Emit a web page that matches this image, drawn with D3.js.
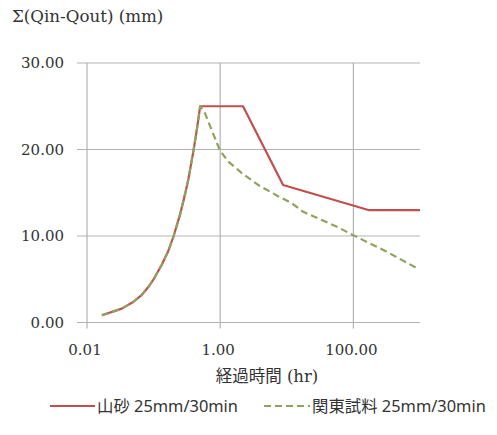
<!DOCTYPE html>
<html><head><meta charset="utf-8">
<script src="https://cdn.jsdelivr.net/npm/d3@7"></script>
<style>
html,body{margin:0;padding:0;background:#fff;}
svg{display:block;}
</style></head>
<body>
<svg id="chart" width="497" height="435"></svg>
<script>
// ---- data ----
const seriesNames = ["山砂 25mm/30min", "関東試料 25mm/30min"];
const riseTime  = [0.0167, 0.0333, 0.05, 0.0667, 0.0833, 0.1, 0.1333, 0.1667, 0.2, 0.25, 0.3, 0.3333, 0.4, 0.45, 0.5];
const riseValue = [0.83, 1.6, 2.4, 3.2, 4.1, 5.0, 6.7, 8.3, 10.0, 12.5, 15.0, 16.6, 20.0, 22.5, 25.0];
const sandTime  = [2.2, 8.8, 168, 1000];
const sandValue = [25.0, 15.9, 13.0, 13.0];
const kantoTime  = [0.59, 0.74, 0.99, 1.32, 2.09, 3.72, 7.4, 11.8, 17.6, 55.6, 99, 313, 940];
const kantoValue = [24.2, 22.3, 19.9, 18.6, 17.3, 15.9, 14.6, 13.8, 12.8, 11.1, 10.1, 8.2, 6.2];
const xTicks = [0.01, 1, 100];
const yTicks = [0, 10, 20, 30];
const yTitle = "Σ(Qin-Qout) (mm)";
const xTitle = "経過時間 (hr)";

// ---- layout ----
const svg = d3.select("#chart");
const x = d3.scaleLog().domain([0.01, 1000]).range([87, 420]);
const y = d3.scaleLinear().domain([0, 30]).range([322.5, 63]);
const serif = "'DejaVu Serif', 'Liberation Serif', 'Noto Sans CJK JP', serif";
const sans = "'Noto Sans', 'Noto Sans CJK JP', sans-serif";
const grid = "#b3b3b3";

// horizontal gridlines (with left tick stubs)
svg.append("g").selectAll("line").data(yTicks).join("line")
  .attr("x1", 77).attr("x2", x(1000))
  .attr("y1", d => y(d)).attr("y2", d => y(d))
  .attr("stroke", grid).attr("stroke-width", 1.2);
// vertical gridlines (with bottom tick stubs)
svg.append("g").selectAll("line").data(xTicks).join("line")
  .attr("x1", d => x(d)).attr("x2", d => x(d))
  .attr("y1", y(30)).attr("y2", y(0) + 6)
  .attr("stroke", grid).attr("stroke-width", 1.2);

// tick labels
svg.append("g").selectAll("text").data(yTicks).join("text")
  .attr("x", 64).attr("y", d => y(d)).attr("dy", "0.36em")
  .attr("text-anchor", "end").attr("font-family", serif).attr("font-size", 15)
  .attr("fill", "#333").text(d => d3.format(".2f")(d));
svg.append("g").selectAll("text").data(xTicks).join("text")
  .attr("x", d => x(d) - 2).attr("y", 355)
  .attr("text-anchor", "middle").attr("font-family", serif).attr("font-size", 15)
  .attr("fill", "#333").text(d => d3.format(".2f")(d));

// titles
svg.append("text").attr("x", 12).attr("y", 22)
  .attr("font-family", serif).attr("font-size", 16.7).attr("fill", "#333")
  .text(yTitle);
svg.append("text").attr("x", 267).attr("y", 382).attr("text-anchor", "middle")
  .attr("font-family", serif).attr("font-size", 16.5).attr("fill", "#333")
  .text(xTitle);

// lines
const line = d3.line().x(d => x(d[0])).y(d => y(d[1]));
const sandPts = riseTime.map((t, i) => [t, riseValue[i]])
  .concat(sandTime.map((t, i) => [t, sandValue[i]]));
const kantoPts = riseTime.map((t, i) => [t, riseValue[i]])
  .concat(kantoTime.map((t, i) => [t, kantoValue[i]]));
const red = "#c0504d", green = "#8ea35e";

svg.append("path").datum(sandPts).attr("d", line)
  .attr("fill", "none").attr("stroke", red).attr("stroke-width", 2.2)
  .attr("stroke-linejoin", "round");
svg.append("path").datum(kantoPts).attr("d", line)
  .attr("fill", "none").attr("stroke", green).attr("stroke-width", 2.2)
  .attr("stroke-linejoin", "round").attr("stroke-dasharray", "7,4");

// legend
const lg = svg.append("g");
const lgY = 406;
lg.append("line").attr("x1", 50).attr("x2", 95).attr("y1", lgY).attr("y2", lgY)
  .attr("stroke", red).attr("stroke-width", 2.2);
lg.append("text").attr("x", 97).attr("y", lgY).attr("dy", "0.36em")
  .attr("font-family", sans).attr("font-size", 16.4)
  .attr("fill", "#333").text(seriesNames[0]);
lg.append("line").attr("x1", 264).attr("x2", 310).attr("y1", lgY).attr("y2", lgY)
  .attr("stroke", green).attr("stroke-width", 2.2).attr("stroke-dasharray", "7,4");
lg.append("text").attr("x", 312).attr("y", lgY).attr("dy", "0.36em")
  .attr("font-family", sans).attr("font-size", 16.4)
  .attr("fill", "#333").text(seriesNames[1]);
</script>
</body></html>
